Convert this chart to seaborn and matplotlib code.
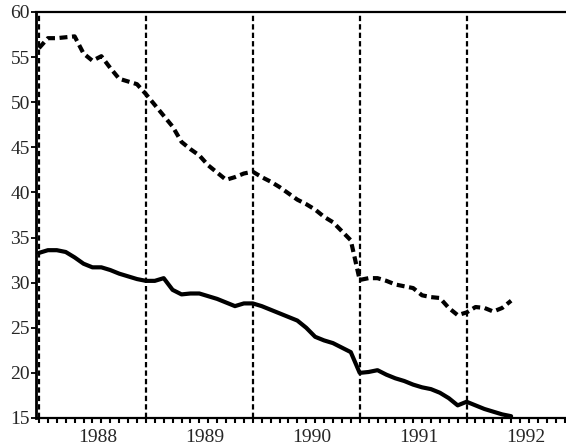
import numpy as np
import pandas as pd
import seaborn as sns
import matplotlib.pyplot as plt
from matplotlib.ticker import FixedLocator, NullFormatter

# Monthly observations, January 1988 onwards
upper = [56.0, 57.1, 57.1, 57.2, 57.3, 55.4, 54.6, 55.1, 53.8, 52.6, 52.3, 52.0,
         50.9, 49.7, 48.5, 47.3, 45.6, 44.8, 44.1, 43.0, 42.2, 41.4, 41.7, 42.1,
         42.3, 41.7, 41.2, 40.6, 39.9, 39.2, 38.7, 38.1, 37.3, 36.7, 35.7, 34.7,
         30.3, 30.5, 30.5, 30.2, 29.8, 29.6, 29.4, 28.6, 28.4, 28.3, 27.2, 26.4,
         26.7, 27.3, 27.2, 26.8, 27.2, 28.0]
lower = [33.3, 33.6, 33.6, 33.4, 32.8, 32.1, 31.7, 31.7, 31.4, 31.0, 30.7, 30.4,
         30.2, 30.2, 30.5, 29.2, 28.7, 28.8, 28.8, 28.5, 28.2, 27.8, 27.4, 27.7,
         27.7, 27.4, 27.0, 26.6, 26.2, 25.8, 25.0, 24.0, 23.6, 23.3, 22.8, 22.3,
         20.0, 20.1, 20.3, 19.8, 19.4, 19.1, 18.7, 18.4, 18.2, 17.8, 17.2, 16.4,
         16.8, 16.4, 16.0, 15.7, 15.4, 15.2]
years = [1988, 1989, 1990, 1991, 1992]
y_ticks = [15, 20, 25, 30, 35, 40, 45, 50, 55, 60]

start_year = 1988
df = pd.DataFrame({
    "t": start_year + np.arange(len(upper)) / 12.0,
    "upper": upper,
    "lower": lower,
})

sns.set_style("white")
plt.rcParams["font.family"] = ["Liberation Serif", "DejaVu Serif"]

fig = plt.figure(figsize=(5.66, 4.46), dpi=100)
ax = fig.add_axes([36 / 566, 1 - 418 / 446, 1 - 36 / 566, (418 - 12) / 446])

# Year boundaries
for yr in years:
    ax.axvline(yr, color="black", lw=1.6, linestyle=(0, (2.4, 1.4)), zorder=1)

sns.lineplot(data=df, x="t", y="upper", ax=ax, color="black", lw=3.0,
             linestyle=(0, (1.9, 1.1)), zorder=3)
sns.lineplot(data=df, x="t", y="lower", ax=ax, color="black", lw=3.0, zorder=3)

ax.set_xlim(1987.972, 1992.93)
ax.set_ylim(15, 60)
ax.set_xlabel("")
ax.set_ylabel("")

# Year labels centred in each year, monthly tick marks underneath
ax.xaxis.set_major_locator(FixedLocator([y + 0.55 for y in years]))
ax.set_xticklabels([str(y) for y in years])
ax.xaxis.set_minor_locator(FixedLocator(start_year + np.arange(0, 60) / 12.0))
ax.xaxis.set_minor_formatter(NullFormatter())
ax.tick_params(axis="x", which="major", length=0, pad=8, labelsize=14)
ax.tick_params(axis="x", which="minor", direction="out", length=3.5, width=1.5,
               color="black", bottom=True)

ax.set_yticks(y_ticks)
ax.set_yticklabels([str(v) for v in y_ticks])
ax.tick_params(axis="y", which="major", direction="out", length=3.5, width=1.3,
               pad=1, labelsize=14, color="black", left=True)

for side in ["left", "bottom", "top"]:
    ax.spines[side].set_visible(True)
    ax.spines[side].set_color("black")
ax.spines["left"].set_linewidth(2.0)
ax.spines["bottom"].set_linewidth(1.6)
ax.spines["top"].set_linewidth(1.6)
ax.spines["right"].set_visible(False)

fig.savefig("out.png", dpi=100)
